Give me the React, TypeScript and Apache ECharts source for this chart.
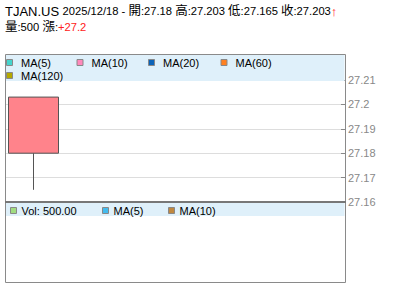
import React, { useEffect, useRef } from "react";
import * as echarts from "echarts";

const symbol = "TJAN.US";
const dateLabel = "2025/12/18";
const categories = ["2025/12/18", "", "", "", "", ""];
// [open, close, low, high]
const ohlc = [[27.18, 27.203, 27.165, 27.203]];
const volumes = [500];
const change = "+27.2";
const priceTicks = { min: 27.16, max: 27.21, interval: 0.01 };
const mainLegend = [
  { name: "MA(5)", color: "#44d4cc" },
  { name: "MA(10)", color: "#ff88bb" },
  { name: "MA(20)", color: "#0b63b8" },
  { name: "MA(60)", color: "#ff8020" },
  { name: "MA(120)", color: "#b4a800" },
];
const volLegend = [
  { name: "Vol: " + volumes[0].toFixed(2), color: "#a0dc80" },
  { name: "MA(5)", color: "#44bbee" },
  { name: "MA(10)", color: "#c08840" },
];

const FONT = "'Liberation Sans', Arial, 'Noto Sans CJK TC', sans-serif";

export default function App() {
  const ref = useRef<HTMLDivElement>(null);
  useEffect(() => {
    if (!ref.current) return;
    const chart = echarts.init(ref.current, undefined, { renderer: "svg" });
    const [o, c, l, h] = ohlc[0];

    const graphics: any[] = [];
    graphics.push({
      type: "rect",
      shape: { x: 5.5, y: 54.5, width: 340, height: 228 },
      style: { fill: "none", stroke: "#8a8a8a", lineWidth: 1 },
      z: 10,
    });
    graphics.push({
      type: "rect",
      shape: { x: 6, y: 55, width: 338.5, height: 26 },
      style: { fill: "#dff0fa" },
      z: 5,
    });
    graphics.push({
      type: "line",
      shape: { x1: 5, y1: 202, x2: 346, y2: 202 },
      style: { stroke: "#777", lineWidth: 2 },
      z: 11,
    });
    graphics.push({
      type: "rect",
      shape: { x: 6, y: 203, width: 338.5, height: 13 },
      style: { fill: "#dff0fa" },
      z: 5,
    });
    const mainX = [6.5, 77, 148.5, 221];
    mainLegend.forEach((it, i) => {
      const col = i % 4;
      const row = Math.floor(i / 4);
      const x = mainX[col];
      const y = 62.5 + row * 13;
      graphics.push({
        type: "rect",
        shape: { x: x, y: y - 3, width: 6, height: 6 },
        style: { fill: it.color, stroke: "#888", lineWidth: 1 },
        z: 6,
      });
      graphics.push({
        type: "text",
        x: x + 14.5,
        y: y + 0.5,
        style: { text: it.name, fill: "#000", font: `11px ${FONT}`, verticalAlign: "middle" },
        z: 6,
      });
    });
    const volX = [10.5, 102.5, 168.5];
    volLegend.forEach((it, i) => {
      const x = volX[i];
      const y = 210.5;
      graphics.push({
        type: "rect",
        shape: { x: x, y: y - 3, width: 6, height: 6 },
        style: { fill: it.color, stroke: "#888", lineWidth: 1 },
        z: 6,
      });
      graphics.push({
        type: "text",
        x: x + 11,
        y: y + 0.5,
        style: { text: it.name, fill: "#000", font: `11px ${FONT}`, verticalAlign: "middle" },
        z: 6,
      });
    });
    graphics.push({
      type: "text",
      x: 5,
      y: 11,
      style: {
        text: `{big|${symbol}} {sm|${dateLabel} - }{cjk|開}{sm|:${o} }{cjk|高}{sm|:${h} }{cjk|低}{sm|:${l} }{cjk|收}{sm|:${c}}{arr|↑}`,
        verticalAlign: "middle",
        rich: {
          big: { font: `13px ${FONT}`, fill: "#000" },
          sm: { font: `11.2px ${FONT}`, fill: "#000" },
          cjk: { font: `12.5px ${FONT}`, fill: "#000" },
          arr: { font: `bold 13px ${FONT}`, fill: "#ff2020" },
        },
      },
    });
    graphics.push({
      type: "text",
      x: 5,
      y: 26.5,
      style: {
        text: `{cjk|量}{sm|:${volumes[0]} }{cjk|漲}{sm|:}{red|${change}}`,
        verticalAlign: "middle",
        rich: {
          sm: { font: `11.2px ${FONT}`, fill: "#000" },
          cjk: { font: `12.5px ${FONT}`, fill: "#000" },
          red: { font: `11.2px ${FONT}`, fill: "#ff2020" },
        },
      },
    });

    chart.setOption({
      animation: false,
      grid: [{ left: 5, right: 55, top: 80, height: 122 }],
      xAxis: [
        {
          type: "category",
          data: categories,
          boundaryGap: true,
          axisLine: { show: false },
          axisTick: { show: false },
          axisLabel: { show: false },
          splitLine: { show: false },
        },
      ],
      yAxis: [
        {
          type: "value",
          position: "right",
          min: priceTicks.min,
          max: priceTicks.max,
          interval: priceTicks.interval,
          axisLine: { show: false },
          axisTick: { show: true, inside: true, length: 4, lineStyle: { color: "#888" } },
          axisLabel: { color: "#888", fontSize: 11, fontFamily: FONT, margin: 3 },
          splitLine: { show: true, lineStyle: { color: "#dddddd", width: 1 } },
        },
      ],
      series: [
        {
          type: "candlestick",
          data: ohlc,
          barWidth: 50,
          itemStyle: {
            color: "#ff838b",
            color0: "#66cc66",
            borderColor: "#555",
            borderColor0: "#555",
            borderWidth: 1,
          },
        },
      ],
      graphic: graphics,
    });
    return () => chart.dispose();
  }, []);
  return <div ref={ref} style={{ width: 400, height: 301, position: "absolute", left: 0, top: 0 }} />;
}
